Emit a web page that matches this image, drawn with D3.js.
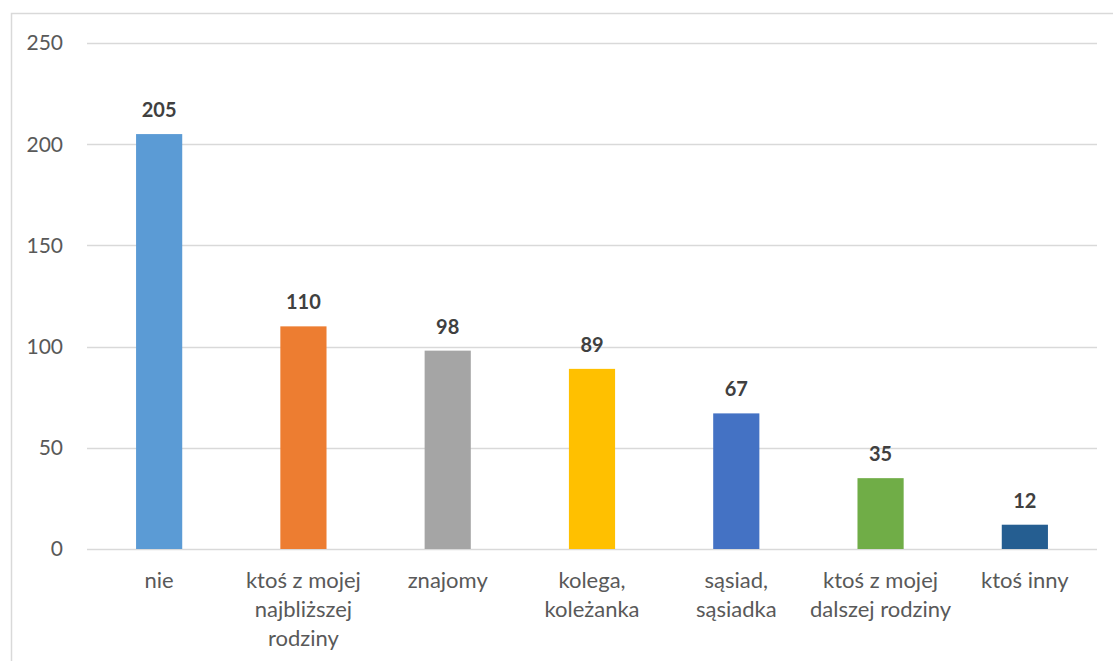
<!DOCTYPE html>
<html>
<head>
<meta charset="utf-8">
<script src="https://cdn.jsdelivr.net/npm/d3@7"></script>
<style>
  body { margin: 0; background: #fff; }
  svg { display: block; font-family: Lato, "Open Sans", sans-serif; }
</style>
</head>
<body>
<svg id="chart" width="1113" height="661"></svg>
<script>
// data
var categories = ["nie", "ktoś z mojej\nnajbliższej\nrodziny", "znajomy", "kolega,\nkoleżanka",
  "sąsiad,\nsąsiadka", "ktoś z mojej\ndalszej rodziny", "ktoś inny"];
var values = [205, 110, 98, 89, 67, 35, 12];
var colors = ["#5B9BD5", "#ED7D31", "#A5A5A5", "#FFC000", "#4472C4", "#70AD47", "#255E91"];
var yTicks = [0, 50, 100, 150, 200, 250];

var svg = d3.select("#chart");
var margin = {left: 87, right: 16, top: 43, bottom: 112};
var width = 1113, height = 661;

// outer chart border
svg.append("rect")
  .attr("x", 11.5).attr("y", 13.5)
  .attr("width", 1120).attr("height", 700)
  .attr("fill", "none")
  .attr("stroke", "#d9d9d9")
  .attr("stroke-width", 1.5);

var x = d3.scaleBand()
  .domain(categories)
  .range([margin.left, width - margin.right])
  .paddingInner(0.68)
  .paddingOuter(0.34);

var y = d3.scaleLinear()
  .domain([0, 250])
  .range([height - margin.bottom, margin.top]);

// gridlines
svg.append("g")
  .selectAll("line")
  .data(yTicks)
  .join("line")
  .attr("x1", margin.left).attr("x2", width - margin.right)
  .attr("y1", d => Math.round(y(d)) + 0.5).attr("y2", d => Math.round(y(d)) + 0.5)
  .attr("stroke", "#d9d9d9")
  .attr("stroke-width", 1.5);

// y axis labels
svg.append("g")
  .selectAll("text")
  .data(yTicks)
  .join("text")
  .attr("x", 63)
  .attr("y", d => y(d))
  .attr("dy", "0.35em")
  .attr("text-anchor", "end")
  .attr("fill", "#595959")
  .style("font-size", "21px")
  .text(d => d);

// bars
svg.append("g")
  .selectAll("rect")
  .data(values)
  .join("rect")
  .attr("x", (d, i) => x(categories[i]))
  .attr("y", d => y(d))
  .attr("width", x.bandwidth())
  .attr("height", d => y(0) - y(d))
  .attr("fill", (d, i) => colors[i]);

// value labels
svg.append("g")
  .selectAll("text")
  .data(values)
  .join("text")
  .attr("x", (d, i) => x(categories[i]) + x.bandwidth() / 2)
  .attr("y", d => y(d) - 17)
  .attr("text-anchor", "middle")
  .attr("fill", "#404040")
  .style("font-size", "20px")
  .style("font-weight", "bold")
  .text(d => d);

// category labels (multi-line)
var cat = svg.append("g")
  .selectAll("text")
  .data(categories)
  .join("text")
  .attr("x", d => x(d) + x.bandwidth() / 2)
  .attr("y", 588)
  .attr("text-anchor", "middle")
  .attr("fill", "#595959")
  .style("font-size", "22px");

cat.each(function(d) {
  var t = d3.select(this);
  d.split("\n").forEach(function(line, k) {
    t.append("tspan")
      .attr("x", t.attr("x"))
      .attr("dy", k == 0 ? 0 : 29)
      .text(line);
  });
});
</script>
</body>
</html>
